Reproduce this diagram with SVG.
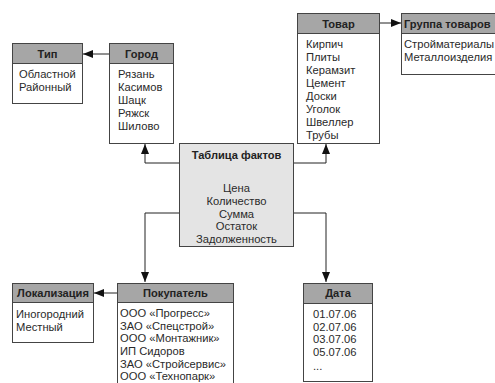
<svg xmlns="http://www.w3.org/2000/svg" width="495" height="383" viewBox="0 0 495 383">
  <defs>
    <marker id="arr" viewBox="0 0 10 8" refX="10" refY="4" markerWidth="10" markerHeight="8" markerUnits="userSpaceOnUse" orient="auto">
      <path d="M0,0 L10,4 L0,8 Z" fill="#111"/>
    </marker>
    <style>
      .box { fill: #fff; stroke: #444; stroke-width: 1; }
      .fact { fill: #e4e4e4; stroke: #444; stroke-width: 1; }
      .hdr { fill: #a6a6a6; stroke: #444; stroke-width: 1; }
      .t { font-family: "Liberation Sans", Arial, sans-serif; font-size: 11.2px; fill: #2a2a2a; }
      .h { font-family: "Liberation Sans", Arial, sans-serif; font-size: 11.1px; font-weight: bold; fill: #222; text-anchor: middle; }
      .c { text-anchor: middle; }
      .ln { fill: none; stroke: #222; stroke-width: 1; }
    </style>
  </defs>
  <rect width="495" height="383" fill="#fff"/>

  <!-- connectors -->
  <g id="connectors">
    <path class="ln" d="M109,54 H83" marker-end="url(#arr)"/>
    <path class="ln" d="M379,23 H401" marker-end="url(#arr)"/>
    <path class="ln" d="M179,163 H145 V144" marker-end="url(#arr)"/>
    <path class="ln" d="M293,163 H326 V144" marker-end="url(#arr)"/>
    <path class="ln" d="M179,213 H145 V282" marker-end="url(#arr)"/>
    <path class="ln" d="M293,213 H326 V282" marker-end="url(#arr)"/>
    <path class="ln" d="M117,293 H94" marker-end="url(#arr)"/>
  </g>

  <!-- dimension: type -->
  <g id="tip">
    <rect class="box" x="12.5" y="43.5" width="70" height="60"/>
    <rect class="hdr" x="12.5" y="43.5" width="70" height="20"/>
    <text class="h" x="47.5" y="58">Тип</text>
    <text class="t" x="19" y="78">Областной</text>
    <text class="t" x="19" y="91">Районный</text>
  </g>

  <!-- dimension: city -->
  <g id="gorod">
    <rect class="box" x="109.5" y="43.5" width="64" height="100"/>
    <rect class="hdr" x="109.5" y="43.5" width="64" height="20"/>
    <text class="h" x="141.5" y="58">Город</text>
    <text class="t" x="118" y="78">Рязань</text>
    <text class="t" x="118" y="91">Касимов</text>
    <text class="t" x="118" y="104">Шацк</text>
    <text class="t" x="118" y="117">Ряжск</text>
    <text class="t" x="118" y="130">Шилово</text>
  </g>

  <!-- dimension: goods -->
  <g id="tovar">
    <rect class="box" x="297.5" y="13.5" width="82" height="130"/>
    <rect class="hdr" x="297.5" y="13.5" width="82" height="20"/>
    <text class="h" x="338.5" y="28">Товар</text>
    <text class="t" x="306" y="48">Кирпич</text>
    <text class="t" x="306" y="61">Плиты</text>
    <text class="t" x="306" y="74">Керамзит</text>
    <text class="t" x="306" y="87">Цемент</text>
    <text class="t" x="306" y="100">Доски</text>
    <text class="t" x="306" y="113">Уголок</text>
    <text class="t" x="306" y="126">Швеллер</text>
    <text class="t" x="306" y="139">Трубы</text>
  </g>

  <!-- dimension: goods group -->
  <g id="gruppa">
    <rect class="box" x="401.5" y="13.5" width="100" height="61"/>
    <rect class="hdr" x="401.5" y="13.5" width="100" height="20"/>
    <text class="h" x="404" y="28" style="text-anchor:start">Группа товаров</text>
    <text class="t" x="404" y="48">Стройматериалы</text>
    <text class="t" x="404" y="61">Металлоизделия</text>
  </g>

  <!-- fact table -->
  <g id="fakty">
    <rect class="fact" x="179.5" y="143.5" width="114" height="103"/>
    <text class="h" x="236.5" y="159">Таблица фактов</text>
    <text class="t c" x="236.5" y="192">Цена</text>
    <text class="t c" x="236.5" y="205">Количество</text>
    <text class="t c" x="236.5" y="218">Сумма</text>
    <text class="t c" x="236.5" y="230">Остаток</text>
    <text class="t c" x="236.5" y="243">Задолженность</text>
  </g>

  <!-- dimension: localization -->
  <g id="lokalizaciya">
    <rect class="box" x="12.5" y="283.5" width="81" height="59"/>
    <rect class="hdr" x="12.5" y="283.5" width="81" height="19"/>
    <text class="h" x="53" y="297">Локализация</text>
    <text class="t" x="16" y="318">Иногородний</text>
    <text class="t" x="16" y="331">Местный</text>
  </g>

  <!-- dimension: customer -->
  <g id="pokupatel">
    <rect class="box" x="117.5" y="283.5" width="116" height="110"/>
    <rect class="hdr" x="117.5" y="283.5" width="116" height="19"/>
    <text class="h" x="175.5" y="297">Покупатель</text>
    <text class="t" x="120" y="317">ООО «Прогресс»</text>
    <text class="t" x="120" y="330">ЗАО «Спецстрой»</text>
    <text class="t" x="120" y="342">ООО «Монтажник»</text>
    <text class="t" x="120" y="355">ИП Сидоров</text>
    <text class="t" x="120" y="368">ЗАО «Стройсервис»</text>
    <text class="t" x="120" y="380">ООО «Технопарк»</text>
  </g>

  <!-- dimension: date -->
  <g id="data">
    <rect class="box" x="303.5" y="283.5" width="69" height="98"/>
    <rect class="hdr" x="303.5" y="283.5" width="69" height="20"/>
    <text class="h" x="338" y="297">Дата</text>
    <text class="t" x="313" y="318">01.07.06</text>
    <text class="t" x="313" y="331">02.07.06</text>
    <text class="t" x="313" y="343">03.07.06</text>
    <text class="t" x="313" y="356">05.07.06</text>
    <text class="t" x="313" y="370">...</text>
  </g>
</svg>
